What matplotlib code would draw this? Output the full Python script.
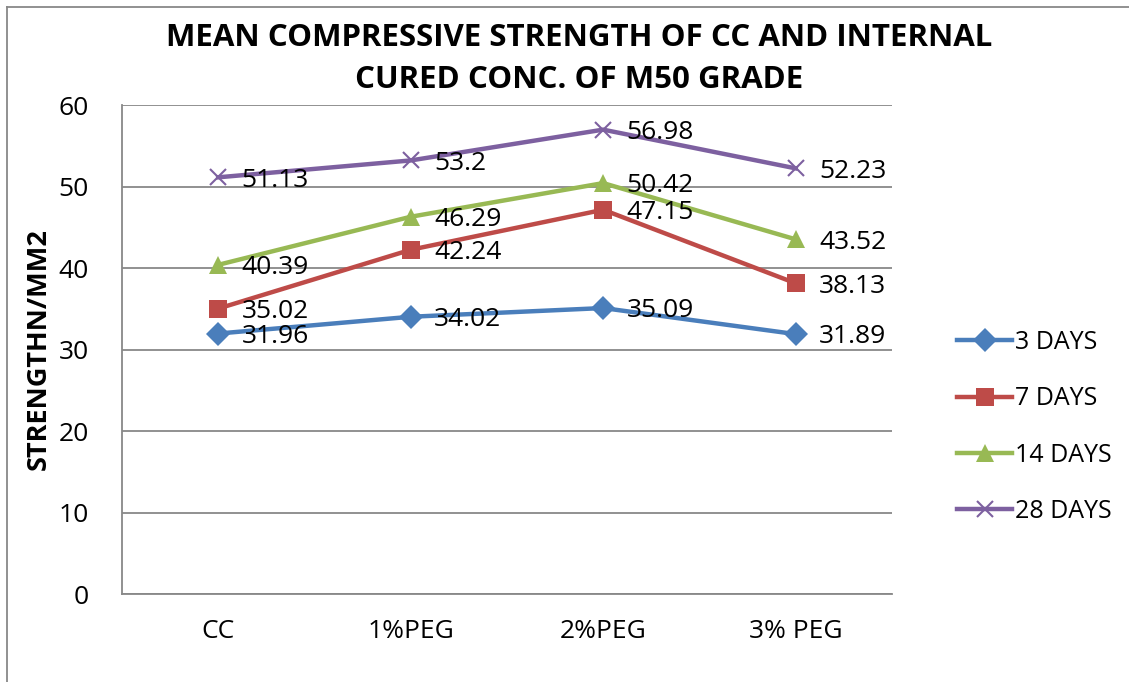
import matplotlib.pyplot as plt
from matplotlib.lines import Line2D

plt.rcParams['font.family'] = ['Open Sans', 'DejaVu Sans']

categories = ['CC', '1%PEG', '2%PEG', '3% PEG']
days_3 = [31.96, 34.02, 35.09, 31.89]
days_7 = [35.02, 42.24, 47.15, 38.13]
days_14 = [40.39, 46.29, 50.42, 43.52]
days_28 = [51.13, 53.2, 56.98, 52.23]
series_names = ['3 DAYS', '7 DAYS', '14 DAYS', '28 DAYS']
y_ticks = [0, 10, 20, 30, 40, 50, 60]

colors = ['#4A7EBB', '#BE4B48', '#98B954', '#7D60A0']
markers = ['D', 's', '^', 'x']
msizes = [12, 13, 13, 12]

fig = plt.figure(figsize=(11.29, 6.82), dpi=100)
ax = fig.add_axes([0.108, 0.129, 0.682, 0.717])

x = list(range(len(categories)))
handles = []
for vals, name, c, m, ms in zip([days_3, days_7, days_14, days_28], series_names, colors, markers, msizes):
    mew = 1.5 if m == 'x' else 0
    h, = ax.plot(x, vals, color=c, lw=3.2, marker=m, markersize=ms,
                 markeredgewidth=mew, markeredgecolor=c, label=name, zorder=3)
    handles.append(h)
    for xi, v in zip(x, vals):
        ax.annotate(f'{v:g}', (xi, v), xytext=(17, -2), textcoords='offset points',
                    ha='left', va='center', fontsize=19, color='black', zorder=4)

ax.set_xlim(-0.5, len(categories) - 0.5)
ax.set_ylim(0, 60)
ax.set_yticks(y_ticks)
ax.set_xticks(x)
ax.set_xticklabels(categories)
ax.tick_params(axis='both', length=0, labelsize=19)
ax.tick_params(axis='y', pad=24)
ax.tick_params(axis='x', pad=18)
ax.grid(axis='y', color='#888888', lw=1.3)
ax.set_axisbelow(True)
for s in ['top', 'right']:
    ax.spines[s].set_visible(False)
for s in ['left', 'bottom']:
    ax.spines[s].set_color('#888888')
    ax.spines[s].set_linewidth(1.3)

ax.set_ylabel('STRENGTHN/MM2', fontsize=19.5, fontweight='bold', labelpad=5)

fig.text(0.513, 0.944, 'MEAN COMPRESSIVE STRENGTH OF CC AND INTERNAL',
         ha='center', va='center', fontsize=22.5, fontweight='bold')
fig.text(0.513, 0.882, 'CURED CONC. OF M50 GRADE',
         ha='center', va='center', fontsize=22.5, fontweight='bold')

leg = fig.legend(handles=handles, loc='center left', bbox_to_anchor=(0.828, 0.374),
                 frameon=False, fontsize=18, handlelength=2.2, handletextpad=0.1,
                 labelspacing=1.25)

# chart border (only left and top edges are in view)
fig.add_artist(Line2D([0.006, 0.006], [0.0, 0.99], transform=fig.transFigure,
                      color='#888888', lw=1.3))
fig.add_artist(Line2D([0.006, 1.0], [0.99, 0.99], transform=fig.transFigure,
                      color='#888888', lw=1.3))

fig.savefig('out.png', dpi=100)
